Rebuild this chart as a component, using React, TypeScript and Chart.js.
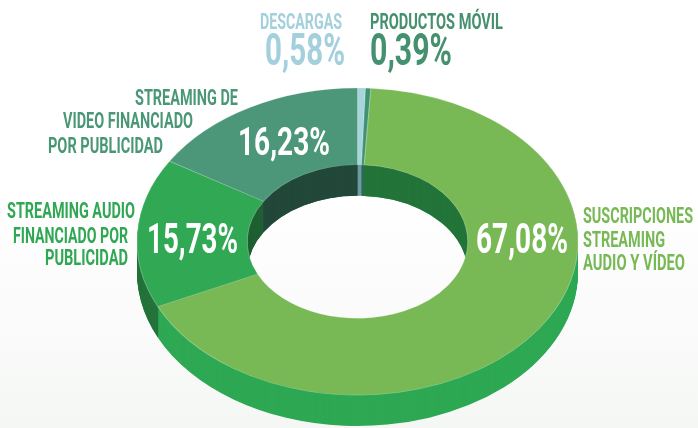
import { useEffect, useRef } from "react";
import { Chart, registerables } from "chart.js";

Chart.register(...registerables);

// ---------- data ----------
const categories = [
  "Descargas",
  "Productos móvil",
  "Suscripciones streaming audio y vídeo",
  "Streaming audio financiado por publicidad",
  "Streaming de video financiado por publicidad",
];
const shares = [0.58, 0.39, 67.08, 15.73, 16.23];
const valueLabels = ["0,58%", "0,39%", "67,08%", "15,73%", "16,23%"];
const nameLines = [
  ["DESCARGAS"],
  ["PRODUCTOS MÓVIL"],
  ["SUSCRIPCIONES", "STREAMING", "AUDIO Y VÍDEO"],
  ["STREAMING AUDIO", "FINANCIADO POR", "PUBLICIDAD"],
  ["STREAMING DE", "VIDEO FINANCIADO", "POR PUBLICIDAD"],
];

// ---------- styles ----------
const topColors = ["#a7d5de", "#3f9272", "#78b955", "#31a853", "#4c977a"];
const sideColors = ["#8cc0c8", "#2f7a5c", "#2ea853", "#23733a", "#2c6a52"];
const innerColors = ["#6f9aa0", "#2c6a52", "#237439", "#1f6033", "#22483a"];
const textColors = ["#a3d0dc", "#45906f", "#77b955", "#30a753", "#4a9778"];

const RX = 220.5; // projected horizontal outer radius
const RY = 153.5; // projected vertical outer radius
const DEPTH = 31; // extrusion thickness
const FONT = "Roboto, 'Noto Sans', sans-serif";

// text placement: [left x, baseline y, target width, cap height]
const valuePos: [number, number, number, number][] = [
  [265, 65, 80, 32],
  [370, 65, 82, 32],
  [476, 253, 92, 30],
  [147, 253, 91, 30],
  [238, 155, 92, 28],
];
const namePos: [number, number, number][][] = [
  [[260, 29, 82]],
  [[370, 29, 133]],
  [[583, 223, 110], [583, 247, 82], [583, 270, 102]],
  [[7, 218, 128], [13, 243, 115], [45, 265, 83]],
  [[135, 105, 103], [63, 128, 130], [48, 153, 115]],
];

function fitText(ctx: CanvasRenderingContext2D, text: string, x: number, base: number, w: number, cap: number, color: string) {
  const size = cap / 0.711;
  ctx.save();
  ctx.font = `700 ${size}px ${FONT}`;
  const m = ctx.measureText(text).width;
  ctx.translate(x, base);
  ctx.scale(w / m, 1);
  ctx.fillStyle = color;
  ctx.textAlign = "left";
  ctx.textBaseline = "alphabetic";
  ctx.fillText(text, 0, 0);
  ctx.restore();
}

function getView(chart: any) {
  const a = chart.getDatasetMeta(0).data[0];
  const p = a.getProps(["x", "y", "outerRadius"], true);
  return { x: p.x, y: p.y, sx: RX / p.outerRadius, sy: RY / p.outerRadius };
}

function project(ctx: CanvasRenderingContext2D, v: any, dy: number) {
  ctx.translate(v.x, v.y + dy);
  ctx.scale(v.sx, v.sy);
  ctx.translate(-v.x, -v.y);
}

const tiltPlugin = {
  id: "tilt3d",
  beforeDatasetsDraw(chart: any) {
    const ctx: CanvasRenderingContext2D = chart.ctx;
    const v = getView(chart);
    const arcs = chart
      .getDatasetMeta(0)
      .data.map((a: any) => a.getProps(["x", "y", "startAngle", "endAngle", "innerRadius", "outerRadius"], true));
    const path = (a: any) => {
      ctx.beginPath();
      ctx.arc(a.x, a.y, a.outerRadius, a.startAngle, a.endAngle);
      ctx.arc(a.x, a.y, a.innerRadius, a.endAngle, a.startAngle, true);
      ctx.closePath();
    };
    const layers = (colors: string[]) => {
      for (let d = DEPTH; d >= 1; d--) {
        ctx.save();
        project(ctx, v, d);
        arcs.forEach((a: any, i: number) => {
          path(a);
          ctx.fillStyle = colors[i];
          ctx.fill();
        });
        ctx.restore();
      }
    };
    // outer side walls
    layers(sideColors);
    // inner wall seen through the hole
    ctx.save();
    ctx.save();
    project(ctx, v, 0);
    ctx.beginPath();
    ctx.arc(v.x, v.y, arcs[0].innerRadius, 0, Math.PI * 2);
    ctx.restore();
    ctx.clip();
    layers(innerColors);
    ctx.restore();
    // top face
    ctx.save();
    project(ctx, v, 0);
  },
  afterDatasetsDraw(chart: any) {
    chart.ctx.restore();
  },
  afterDraw(chart: any) {
    const ctx: CanvasRenderingContext2D = chart.ctx;
    valueLabels.forEach((t, i) => {
      const [x, b, w, c] = valuePos[i];
      fitText(ctx, t, x, b, w, c, i < 2 ? textColors[i] : "#ffffff");
    });
    nameLines.forEach((lines, i) => {
      lines.forEach((t, j) => {
        const [x, b, w] = namePos[i][j];
        fitText(ctx, t, x, b, w, 15.5, textColors[i]);
      });
    });
  },
};

export default function App() {
  const ref = useRef<HTMLCanvasElement>(null);
  useEffect(() => {
    document.body.style.margin = "0";
    const chart = new Chart(ref.current!, {
      type: "doughnut",
      data: {
        labels: categories,
        datasets: [
          {
            data: shares,
            backgroundColor: topColors,
            borderColor: "rgba(255,255,255,0.3)",
            borderWidth: 0.8,
          },
        ],
      },
      options: {
        responsive: false,
        animation: false,
        cutout: "50%",
        rotation: 0,
        layout: { padding: { top: 65, bottom: 10, left: 17, right: 0 } },
        plugins: { legend: { display: false }, tooltip: { enabled: false } },
        events: [],
      },
      plugins: [tiltPlugin],
    });
    return () => chart.destroy();
  }, []);
  return (
    <div style={{ width: 698, height: 428, background: "linear-gradient(#ffffff 0%, #ffffff 45%, #f5f7f5 100%)" }}>
      <canvas ref={ref} width={698} height={428} />
    </div>
  );
}
